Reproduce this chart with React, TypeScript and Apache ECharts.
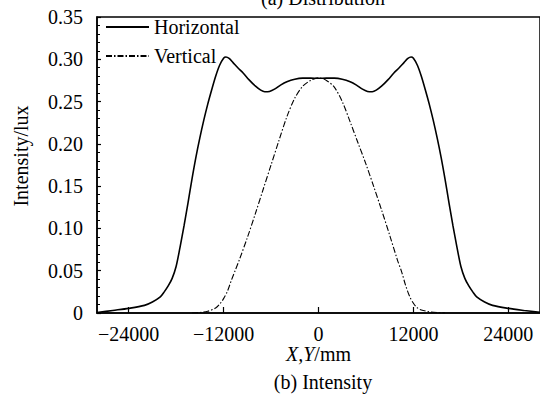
import React, { useEffect, useRef } from "react";
import * as echarts from "echarts";

const xTicks = [-24000, -12000, 0, 12000, 24000];

const horizontalX = [
  -28000, -26000, -24000, -22000, -21000, -20000, -19500, -19000, -18500, -18000,
  -17500, -17000, -16500, -16000, -15500, -15000, -14500, -14000, -13500, -13000,
  -12500, -12000, -11700, -11300, -10800, -10200, -9500, -8800, -8000, -7300,
  -6800, -6200, -5500, -4800, -4000, -3000, -2000, -1000, 0,
  1000, 2000, 3000, 4000, 4800, 5500, 6200, 6800, 7300, 8000,
  8800, 9500, 10200, 10800, 11300, 11700, 12000, 12500, 13000, 13500,
  14000, 14500, 15000, 15500, 16000, 16500, 17000, 17500, 18000, 18500,
  19000, 19500, 20000, 21000, 22000, 24000, 26000, 28000,
];
const horizontalY = [
  0.0005, 0.003, 0.0055, 0.009, 0.013, 0.019, 0.025, 0.032, 0.041, 0.055,
  0.078, 0.103, 0.13, 0.158, 0.184, 0.207, 0.228, 0.247, 0.264, 0.28,
  0.293, 0.3013, 0.3027, 0.301, 0.296, 0.29, 0.2835, 0.276, 0.2685, 0.2635,
  0.2616, 0.262, 0.265, 0.2695, 0.2735, 0.2765, 0.2777, 0.2777, 0.2775,
  0.2777, 0.2777, 0.2765, 0.2735, 0.2695, 0.265, 0.262, 0.2616, 0.2635, 0.2685,
  0.276, 0.2835, 0.29, 0.296, 0.301, 0.3027, 0.3013, 0.293, 0.28, 0.264,
  0.247, 0.228, 0.207, 0.184, 0.158, 0.13, 0.103, 0.078, 0.055, 0.041,
  0.032, 0.025, 0.019, 0.013, 0.009, 0.0055, 0.003, 0.0008,
];

const verticalX = [
  -16000, -15000, -14000, -13000, -12400, -12000, -11500, -11000, -10500, -10000,
  -9000, -8000, -7000, -6000, -5000, -4000, -3000, -2000, -1000, 0,
  1000, 2000, 3000, 4000, 5000, 6000, 7000, 8000, 9000, 10000,
  10500, 11000, 11500, 12000, 12500, 13000, 14000, 15000, 16000,
];
const verticalY = [
  0, 0.0006, 0.002, 0.006, 0.0115, 0.017, 0.026, 0.039, 0.051, 0.063,
  0.089, 0.117, 0.146, 0.175, 0.204, 0.232, 0.254, 0.268, 0.275, 0.278,
  0.275, 0.267, 0.25, 0.226, 0.201, 0.176, 0.149, 0.121, 0.092, 0.062,
  0.049, 0.033, 0.02, 0.0115, 0.006, 0.0035, 0.0015, 0.0005, 0,
];

const FONT = "Times New Roman, Liberation Serif, serif";

export default function App() {
  const ref = useRef<HTMLDivElement>(null);
  useEffect(() => {
    if (!ref.current) return;
    const chart = echarts.init(ref.current, null, { renderer: "svg" });
    const hData = horizontalX.map((x, i) => [x, horizontalY[i]]);
    const vData = verticalX.map((x, i) => [x, verticalY[i]]);
    const txt = (text: string, x: number, y: number, rotation = 0) => ({
      type: "text",
      x,
      y,
      rotation,
      style: {
        text,
        fontSize: 20,
        fontFamily: FONT,
        fill: "#000",
        align: "center",
        verticalAlign: "middle",
      },
    });
    chart.setOption({
      animation: false,
      backgroundColor: "#fff",
      textStyle: { fontFamily: FONT, color: "#000" },
      grid: {
        left: 97,
        right: -9,
        top: 17,
        bottom: 96,
        show: true,
        borderColor: "#000",
        borderWidth: 1.5,
        backgroundColor: "transparent",
      },
      legend: {
        orient: "vertical",
        left: 100,
        top: 12,
        itemWidth: 43,
        itemHeight: 14,
        itemGap: 9,
        itemStyle: { opacity: 0 },
        textStyle: { fontFamily: FONT, fontSize: 20, color: "#000" },
        data: ["Horizontal", "Vertical"],
      },
      xAxis: {
        type: "value",
        min: -28000,
        max: 28000,
        name: "{i|X,Y}/mm",
        nameLocation: "middle",
        nameGap: 31,
        nameMoveOverlap: false,
        nameTextStyle: {
          fontFamily: FONT,
          fontSize: 20,
          color: "#000",
          rich: { i: { fontFamily: FONT, fontSize: 20, fontStyle: "italic", color: "#000" } },
        },
        axisLine: { onZero: false, lineStyle: { color: "#000", width: 1.5 } },
        axisTick: {
          inside: true,
          length: 6,
          customValues: xTicks,
          lineStyle: { color: "#000", width: 1.2 },
        },
        axisLabel: {
          customValues: xTicks,
          margin: 11,
          hideOverlap: false,
          fontFamily: FONT,
          fontSize: 20,
          color: "#000",
          formatter: (v: number) => (v < 0 ? "\u2212" + Math.abs(v) : String(v)),
        },
        splitLine: { show: false },
      },
      yAxis: {
        type: "value",
        min: 0,
        max: 0.35,
        interval: 0.05,
        axisLine: { show: true, onZero: false, lineStyle: { color: "#000", width: 1.5 } },
        axisTick: { show: true, inside: true, length: 4, lineStyle: { color: "#000", width: 1.2 } },
        minorTick: { show: true, splitNumber: 5, length: 3, lineStyle: { color: "#000", width: 1 } },
        axisLabel: {
          margin: 14,
          fontFamily: FONT,
          fontSize: 20,
          color: "#000",
          formatter: (v: number) => (v === 0 ? "0" : v.toFixed(2)),
        },
        splitLine: { show: false },
      },
      graphic: [
        txt("(a) Distribution", 323, -2),
        txt("(b) Intensity", 323, 382),
        txt("Intensity/lux", 21, 156, Math.PI / 2),
      ],
      series: [
        {
          name: "Horizontal",
          type: "line",
          data: hData,
          symbol: "none",
          smooth: 0.3,
          lineStyle: { color: "#000", width: 1.6 },
          itemStyle: { color: "#000" },
        },
        {
          name: "Vertical",
          type: "line",
          data: vData,
          symbol: "none",
          smooth: 0.3,
          lineStyle: { color: "#000", width: 1.1, type: [6, 2, 1.5, 2] },
          itemStyle: { color: "#000" },
        },
      ],
    });
    return () => chart.dispose();
  }, []);
  return (
    <div
      ref={ref}
      style={{ position: "absolute", left: 0, top: 0, width: 540, height: 409 }}
    />
  );
}
